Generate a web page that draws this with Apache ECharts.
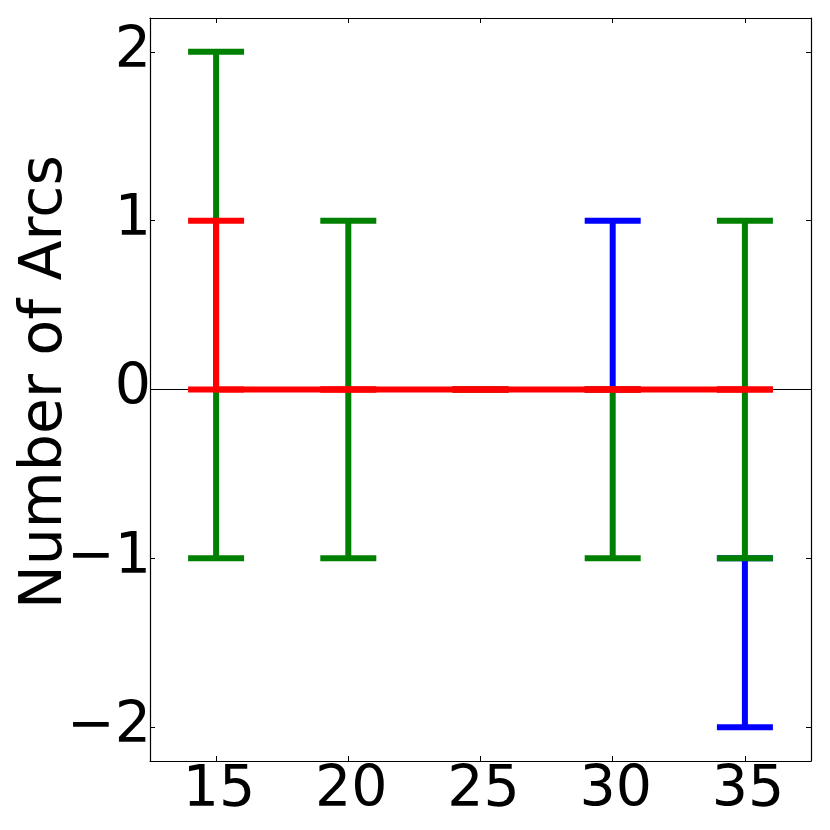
<!DOCTYPE html>
<html>
<head>
<meta charset="utf-8">
<script src="https://cdn.jsdelivr.net/npm/echarts@6/dist/echarts.min.js"></script>
<style>
html,body{margin:0;padding:0;background:#fff;}
#chart{width:830px;height:830px;}
</style>
</head>
<body>
<div id="chart"></div>
<script>
// Data
var xTicks = [15, 20, 25, 30, 35];
var yTicks = [-2, -1, 0, 1, 2];
// error bars: [x, low, high]
var blueBars = [[30, 0, 1], [35, -2, -1]];
var greenBars = [[15, -1, 2], [20, -1, 1], [25, 0, 0], [30, -1, 0], [35, -1, 1]];
var redBars = [[15, 0, 1], [20, 0, 0], [25, 0, 0], [30, 0, 0], [35, 0, 0]];
var redLine = [[15, 0], [20, 0], [25, 0], [30, 0], [35, 0]];
var yName = 'Number of Arcs';

var FONT = 'DejaVu Sans';
var FS = 57;
var NFS = 58.5;
var LW = 6;
var CAP = 28;

function errRender(color) {
  return function (params, api) {
    var x = api.value(0), lo = api.value(1), hi = api.value(2);
    var pLo = api.coord([x, lo]);
    var pHi = api.coord([x, hi]);
    var style = {stroke: color, lineWidth: LW};
    return {
      type: 'group',
      children: [
        {type: 'line', shape: {x1: pLo[0], y1: pLo[1], x2: pHi[0], y2: pHi[1]}, style: style},
        {type: 'line', shape: {x1: pLo[0] - CAP, y1: pLo[1], x2: pLo[0] + CAP, y2: pLo[1]}, style: style},
        {type: 'line', shape: {x1: pHi[0] - CAP, y1: pHi[1], x2: pHi[0] + CAP, y2: pHi[1]}, style: style}
      ]
    };
  };
}

function fmt(v) {
  return v < 0 ? '\u2212' + Math.abs(v) : String(v);
}

var axisLineStyle = {color: '#000', width: 1.2};
var tickStyle = {color: '#000', width: 1};

var chart = echarts.init(document.getElementById('chart'), null, {renderer: 'canvas'});
chart.setOption({
  animation: false,
  backgroundColor: '#fff',
  grid: {left: 150, top: 18, right: 19, bottom: 69, containLabel: false, outerBoundsMode: 'none'},
  xAxis: [{
    type: 'value', min: 12.5, max: 37.5, position: 'bottom',
    splitLine: {show: false},
    axisLine: {show: true, onZero: false, lineStyle: axisLineStyle},
    axisTick: {show: true, inside: true, length: 5, lineStyle: tickStyle, customValues: xTicks},
    axisLabel: {show: true, margin: 2, padding: [0, 0, 0, 6], fontFamily: FONT, fontSize: FS, color: '#000', customValues: xTicks, formatter: fmt}
  }, {
    type: 'value', min: 12.5, max: 37.5, position: 'top',
    splitLine: {show: false},
    axisLine: {show: true, onZero: false, lineStyle: axisLineStyle},
    axisTick: {show: true, inside: true, length: 5, lineStyle: tickStyle, customValues: xTicks},
    axisLabel: {show: false}
  }],
  yAxis: [{
    type: 'value', min: -2.2, max: 2.2, position: 'left',
    name: yName, nameLocation: 'middle', nameRotate: 90, nameGap: 75, nameMoveOverlap: false,
    nameTextStyle: {fontFamily: FONT, fontSize: NFS, color: '#000', padding: [0, 0, 0, 15]},
    splitLine: {show: false},
    axisLine: {show: true, onZero: false, lineStyle: axisLineStyle},
    axisTick: {show: true, inside: true, length: 5, lineStyle: tickStyle, customValues: yTicks},
    axisLabel: {show: true, margin: -1, fontFamily: FONT, fontSize: FS, color: '#000', customValues: yTicks, formatter: fmt}
  }, {
    type: 'value', min: -2.2, max: 2.2, position: 'right',
    splitLine: {show: false},
    axisLine: {show: true, onZero: false, lineStyle: axisLineStyle},
    axisTick: {show: true, inside: true, length: 5, lineStyle: tickStyle, customValues: yTicks},
    axisLabel: {show: false}
  }],
  series: [
    {
      type: 'line', data: [], silent: true,
      markLine: {
        silent: true, symbol: 'none', label: {show: false},
        lineStyle: {color: '#000', width: 1.2, type: 'solid'},
        data: [{yAxis: 0}]
      }
    },
    {type: 'custom', renderItem: errRender('#0000ff'), data: blueBars, z: 3},
    {type: 'custom', renderItem: errRender('#008000'), data: greenBars, z: 4},
    {type: 'line', data: redLine, symbol: 'none', lineStyle: {color: '#ff0000', width: LW}, z: 5},
    {type: 'custom', renderItem: errRender('#ff0000'), data: redBars, z: 5}
  ]
});
</script>
</body>
</html>
